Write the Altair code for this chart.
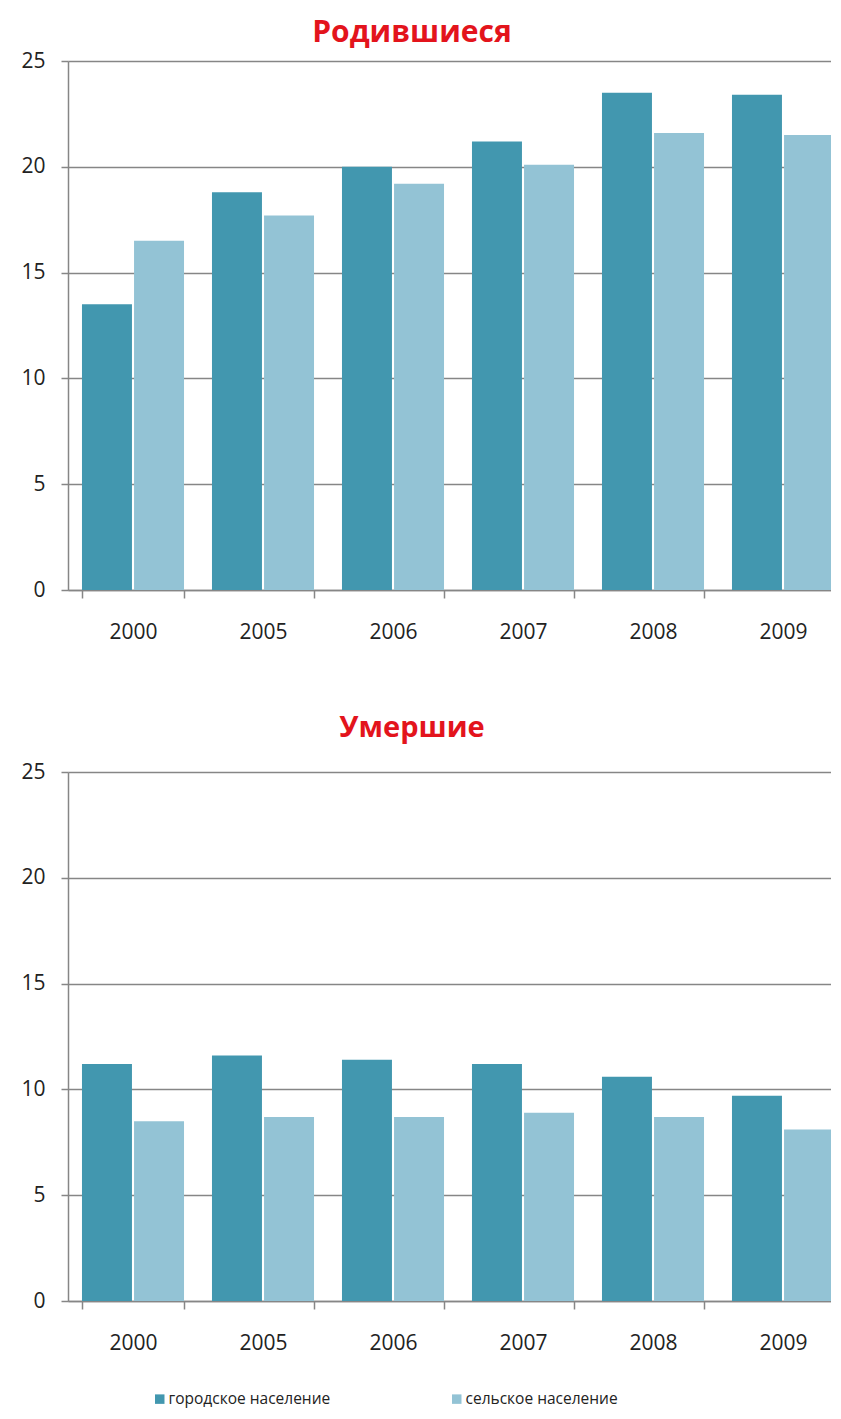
import altair as alt
import pandas as pd

years = ["2000", "2005", "2006", "2007", "2008", "2009"]
groups = ["городское население", "сельское население"]
born_urban = [13.5, 18.8, 20.0, 21.2, 23.5, 23.4]
born_rural = [16.5, 17.7, 19.2, 20.1, 21.6, 21.5]
died_urban = [11.2, 11.6, 11.4, 11.2, 10.6, 9.7]
died_rural = [8.5, 8.7, 8.7, 8.9, 8.7, 8.1]
colors = ["#4297AF", "#93C3D5"]
y_ticks = [0, 5, 10, 15, 20, 25]


def long_df(urban, rural):
    rows = []
    for i, y in enumerate(years):
        rows.append({"year": y, "group": groups[0], "value": urban[i]})
        rows.append({"year": y, "group": groups[1], "value": rural[i]})
    return pd.DataFrame(rows)


FONT = "Open Sans"
GRID = "#868686"


def panel(df, title, title_offset, extent, legend, title_size):
    return alt.Chart(df).mark_bar().encode(
        x=alt.X("year:N", sort=years,
                scale=alt.Scale(paddingInner=0.215, paddingOuter=0.1075),
                axis=alt.Axis(title=None, labelAngle=0, tickBand="extent",
                              tickSize=8, labelPadding=23, labelFontSize=21,
                              labelFont=FONT, labelColor="#222222",
                              domainColor=GRID, domainWidth=1.5,
                              tickColor=GRID, tickWidth=1.5)),
        xOffset=alt.XOffset("group:N", sort=groups,
                            scale=alt.Scale(paddingInner=0.04)),
        y=alt.Y("value:Q", scale=alt.Scale(domain=[0, 25], nice=False),
                axis=alt.Axis(title=None, values=y_ticks, grid=True,
                              gridColor=GRID, gridWidth=1.5,
                              tickSize=7, tickColor=GRID, tickWidth=1.5,
                              domainColor=GRID, domainWidth=1.5,
                              labelPadding=16, labelFontSize=21,
                              labelFont=FONT, labelColor="#222222",
                              minExtent=extent, maxExtent=extent)),
        color=alt.Color("group:N", sort=groups,
                        scale=alt.Scale(domain=groups, range=colors),
                        legend=legend),
    ).properties(
        width=780, height=529,
        title=alt.TitleParams(title, fontSize=title_size, font=FONT,
                              fontWeight="bold", color="#E3141C",
                              anchor="middle", dx=-46, offset=title_offset),
    )


legend = alt.Legend(title=None, orient="none", legendX=84, legendY=619,
                    direction="horizontal", symbolType="square",
                    symbolSize=90, symbolStrokeWidth=0, labelFont=FONT,
                    labelFontSize=15.5, labelColor="#222222", labelLimit=0,
                    columnPadding=118, labelOffset=1)

top = panel(long_df(born_urban, born_rural), "Родившиеся", 2, 60, None, 30)
bottom = panel(long_df(died_urban, died_rural), "Умершие", 18, 60, legend, 29)

chart = alt.vconcat(top, bottom, spacing=72).resolve_legend(
    color="independent"
).configure_view(stroke=None).properties(
    padding={"left": 0, "top": 10, "right": -17, "bottom": 3}
)

chart.save("out.html", embed_options={"renderer": "svg", "actions": False})
